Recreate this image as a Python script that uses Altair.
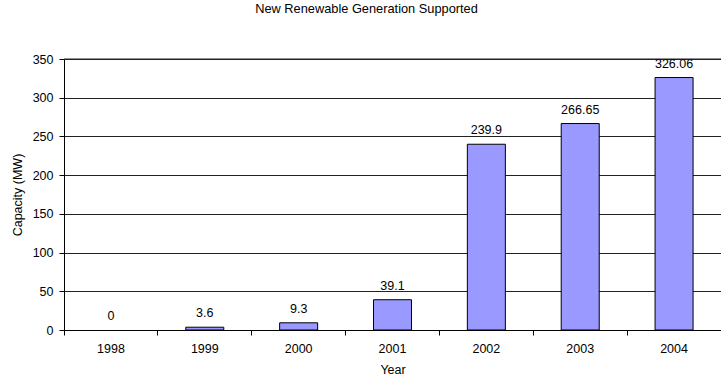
import altair as alt
import pandas as pd

# Installed renewable capacity supported each year (MW)
years = ["1998", "1999", "2000", "2001", "2002", "2003", "2004"]
capacity = [0, 3.6, 9.3, 39.1, 239.9, 266.65, 326.06]
labels = ["0", "3.6", "9.3", "39.1", "239.9", "266.65", "326.06"]
y_ticks = [0, 50, 100, 150, 200, 250, 300, 350]
y_max = 350

df = pd.DataFrame({"Year": years, "Capacity": capacity, "Label": labels})

FONT = "Liberation Sans"
FS = 12.5
GRID = "#222222"

x = alt.X(
    "Year:N",
    title="Year",
    sort=years,
    scale=alt.Scale(paddingInner=0, paddingOuter=0),
    axis=alt.Axis(
        labelAngle=0,
        bandPosition=0,
        tickSize=5,
        tickColor="#000000",
        domainColor="#000000",
        labelPadding=7,
        titlePadding=9,
        labelFontSize=FS,
        titleFontSize=FS,
        labelFont=FONT,
        titleFont=FONT,
        labelColor="#000000",
        titleColor="#000000",
        titleFontWeight="normal",
    ),
)

y_scale = alt.Scale(domain=[0, y_max], nice=False)
y_axis = alt.Axis(
    values=y_ticks,
    labelOverlap=False,
    tickSize=5,
    tickColor="#000000",
    domainColor="#000000",
    grid=True,
    gridColor=GRID,
    gridWidth=1,
    labelPadding=6,
    titlePadding=8,
    labelFontSize=FS,
    titleFontSize=FS,
    labelFont=FONT,
    titleFont=FONT,
    labelColor="#000000",
    titleColor="#000000",
    titleFontWeight="normal",
)

y = alt.Y("Capacity:Q", title="Capacity (MW)", scale=y_scale, axis=y_axis)

base = alt.Chart(df).encode(x=x, y=y)

# zero-height bars are left undrawn
bars = base.mark_bar(
    width={"band": 0.405},
    color="#9999FF",
    stroke="#000000",
    strokeWidth=1,
).encode(
    strokeOpacity=alt.condition(alt.datum.Capacity > 0, alt.value(1), alt.value(0))
)

values = base.mark_text(
    font=FONT,
    fontSize=FS,
    color="#000000",
    baseline="middle",
    dy=-14,
).encode(text="Label:N")

# top edge of the plot area at the axis maximum
top_line = alt.Chart().mark_rule(color=GRID, strokeWidth=1).encode(
    y=alt.YDatum(y_max, type="quantitative", title="Capacity (MW)", scale=y_scale, axis=y_axis)
)

chart = (
    alt.layer(bars, values, top_line)
    .properties(
        width=657,
        height=271,
        autosize=alt.AutoSizeParams(type="none"),
        padding={"left": 64, "top": 59, "right": 0, "bottom": 48},
        title=alt.TitleParams(
            "New Renewable Generation Supported",
            font=FONT,
            fontSize=12.8,
            fontWeight="normal",
            color="#000000",
            anchor="middle",
            dx=-26,
            offset=27,
            baseline="alphabetic",
        ),
    )
    .configure_view(strokeWidth=0)
)

chart.save("out.html", embed_options={"renderer": "svg", "actions": False})
